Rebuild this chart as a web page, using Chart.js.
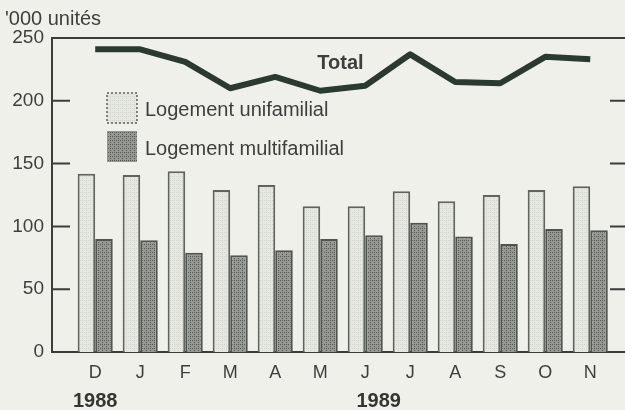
<!DOCTYPE html>
<html>
<head>
<meta charset="utf-8">
<script src="https://cdn.jsdelivr.net/npm/chart.js@4.4.0/dist/chart.umd.min.js"></script>
<style>
  html, body { margin: 0; padding: 0; background: #f0f0eb; }
  #c { display: block; }
</style>
</head>
<body>
<canvas id="c" width="625" height="410"></canvas>
<script>
// mois, déc. 1988 à nov. 1989
var months = ['D', 'J', 'F', 'M', 'A', 'M', 'J', 'J', 'A', 'S', 'O', 'N'];
var unifamilial = [142, 141, 144, 129, 133, 116, 116, 128, 120, 125, 129, 132];
var multifamilial = [90, 89, 79, 77, 81, 90, 93, 103, 92, 86, 98, 97];
var total = [241, 241, 231, 210, 219, 208, 212, 237, 215, 214, 235, 233];
var yTicks = [0, 50, 100, 150, 200, 250];
var years = [{ text: '1988', at: 0 }, { text: '1989', at: 6.3 }];

var FONT = "'Liberation Sans', Arial, sans-serif";
var TEXT = '#3d3f3c';
var AXIS = '#3a3d39';

function makePattern(bg, dot) {
   var p = document.createElement('canvas');
   p.width = 4; p.height = 4;
   var g = p.getContext('2d');
   g.fillStyle = bg;
   g.fillRect(0, 0, 4, 4);
   g.fillStyle = dot;
   g.fillRect(0, 0, 1, 1);
   g.fillRect(2, 2, 1, 1);
   g.fillRect(2, 0, 1, 1);
   return g.createPattern(p, 'repeat');
}
var lightFill = makePattern('#e6e7e1', '#d2d4ce');
var darkFill = makePattern('#969993', '#585b56');

function pts(arr) {
   return arr.map(function (v, i) { return { x: i, y: v }; });
}

var decor = {
   id: 'decor',
   beforeDraw: function (chart) {
      var c = chart.ctx;
      c.save();
      c.fillStyle = '#f0f0eb';
      c.fillRect(0, 0, chart.width, chart.height);
      c.restore();
   },
   afterDraw: function (chart) {
      var c = chart.ctx, a = chart.chartArea;
      var xs = chart.scales.x, ys = chart.scales.y;
      c.save();
      // cadre du haut
      c.strokeStyle = AXIS;
      c.lineWidth = 2;
      c.beginPath();
      c.moveTo(a.left, ys.getPixelForValue(250));
      c.lineTo(chart.width, ys.getPixelForValue(250));
      c.stroke();
      // graduations intérieures
      yTicks.forEach(function (v) {
         if (v === 0 || v === 250) return;
         var y = ys.getPixelForValue(v);
         c.beginPath();
         c.moveTo(a.left, y); c.lineTo(a.left + 18, y);
         c.moveTo(a.right - 14, y); c.lineTo(chart.width, y);
         c.stroke();
      });
      // unité
      c.fillStyle = TEXT;
      c.font = '20px ' + FONT;
      c.textBaseline = 'middle';
      c.textAlign = 'left';
      c.fillText("'000 unités", 5, 19);
      // Total
      c.font = 'bold 20px ' + FONT;
      c.textAlign = 'center';
      c.fillText('Total', xs.getPixelForValue(5.45), ys.getPixelForValue(230));
      // légende
      var lx = a.left + 55;
      c.fillStyle = lightFill;
      c.fillRect(lx, 93, 30, 30);
      c.setLineDash([2, 2]);
      c.strokeStyle = '#5a5d58';
      c.lineWidth = 1.5;
      c.strokeRect(lx, 93, 30, 30);
      c.setLineDash([]);
      c.fillStyle = darkFill;
      c.fillRect(lx, 131, 30, 31);
      c.fillStyle = TEXT;
      c.font = '20px ' + FONT;
      c.textAlign = 'left';
      c.fillText('Logement unifamilial', lx + 38, 110);
      c.fillText('Logement multifamilial', lx + 38, 149);
      // années
      c.font = 'bold 20px ' + FONT;
      c.textAlign = 'center';
      c.fillStyle = '#333532';
      years.forEach(function (yr) {
         c.fillText(yr.text, xs.getPixelForValue(yr.at), 401);
      });
      c.restore();
   }
};

new Chart(document.getElementById('c'), {
   type: 'bar',
   data: {
      datasets: [{
         type: 'line',
         label: 'Total',
         data: pts(total),
         borderColor: '#2b3a30',
         borderWidth: 6,
         pointRadius: 0,
         tension: 0,
         borderJoinStyle: 'round',
         fill: false,
         order: 0
      }, {
         label: 'Logement unifamilial',
         data: pts(unifamilial),
         backgroundColor: lightFill,
         borderColor: '#60645e',
         borderWidth: 2,
         borderSkipped: 'bottom',
         categoryPercentage: 0.78,
         barPercentage: 1.0,
         order: 1
      }, {
         label: 'Logement multifamilial',
         data: pts(multifamilial),
         backgroundColor: darkFill,
         borderColor: '#50544f',
         borderWidth: 2,
         borderSkipped: 'bottom',
         categoryPercentage: 0.78,
         barPercentage: 1.0,
         order: 1
      }]
   },
   options: {
      responsive: false,
      animation: false,
      devicePixelRatio: 1,
      layout: { padding: { top: 38, right: 1, left: 0, bottom: 0 } },
      plugins: { legend: { display: false }, tooltip: { enabled: false } },
      scales: {
         x: {
            type: 'linear',
            offset: false,
            min: -0.96,
            max: 11.75,
            grid: { display: false, drawTicks: false },
            border: { display: true, color: AXIS, width: 2 },
            afterBuildTicks: function (s) {
               s.ticks = months.map(function (m, i) { return { value: i }; });
            },
            afterFit: function (s) { s.height = 58; },
            ticks: {
               autoSkip: false,
               maxRotation: 0,
               padding: 10,
               color: TEXT,
               font: { family: FONT, size: 18 },
               callback: function (v) { return months[v]; }
            }
         },
         y: {
            min: 0,
            max: 250,
            grid: { display: false, drawTicks: false },
            border: { display: true, color: AXIS, width: 2 },
            afterFit: function (s) { s.width = 52; },
            afterBuildTicks: function (s) {
               s.ticks = yTicks.map(function (v) { return { value: v }; });
            },
            ticks: {
               padding: 8,
               color: TEXT,
               font: { family: FONT, size: 19 }
            }
         }
      }
   },
   plugins: [decor]
});
</script>
</body>
</html>
